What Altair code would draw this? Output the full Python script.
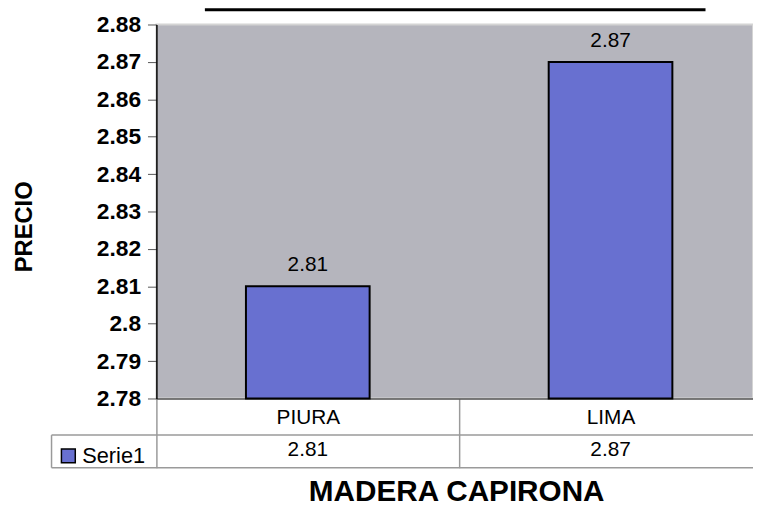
import altair as alt
import pandas as pd

# ---- data ----
categories = ["PIURA", "LIMA"]
prices = [2.81, 2.87]
series_name = "Serie1"
y_ticks = [2.78, 2.79, 2.80, 2.81, 2.82, 2.83, 2.84, 2.85, 2.86, 2.87, 2.88]
chart_title = "COMPRA DE INSUMOS INSUMOS"
x_title = "MADERA CAPIRONA"
y_title = "PRECIO"

df = pd.DataFrame({
    "region": categories,
    "precio": prices,
    "serie": [series_name] * len(categories),
})
one = pd.DataFrame({"k": [0]})

W, H = 603, 378
XR = 612  # the category table runs a little past the window edge
FONT = "Liberation Sans"
BAR = "#6870d0"
PLOT_BG = "#b5b5bd"
LINE = "#9a9a9a"

x_enc = alt.X(
    "region:N",
    sort=categories,
    scale=alt.Scale(paddingInner=0, paddingOuter=0, range=[0, XR]),
    axis=alt.Axis(
        title=x_title,
        labelAngle=0,
        labelFont=FONT,
        labelFontSize=21,
        labelColor="black",
        labelBaseline="alphabetic",
        labelPadding=-45,
        labelOverlap=False,
        tickBand="extent",
        tickSize=70,
        tickColor=LINE,
        tickWidth=1.5,
        domainColor="#555555",
        domainWidth=1.5,
        titleFont=FONT,
        titleFontSize=30,
        titleFontWeight="bold",
        titleColor="black",
        titleBaseline="alphabetic",
        titleY=103,
        titleX=303,
    ),
)
y_enc = alt.Y(
    "precio:Q",
    scale=alt.Scale(domain=[y_ticks[0], y_ticks[-1]], zero=False, nice=False),
    axis=alt.Axis(
        title=y_title,
        values=y_ticks,
        tickCount=len(y_ticks) + 2,
        format=".2~f",
        grid=False,
        labelOverlap=False,
        labelFont=FONT,
        labelFontSize=23,
        labelFontWeight="bold",
        labelColor="black",
        labelPadding=7,
        tickSize=9,
        tickColor="#555555",
        tickWidth=1,
        domainColor="black",
        domainWidth=1.5,
        titleFont=FONT,
        titleFontSize=24,
        titleFontWeight="bold",
        titleColor="black",
        titleAngle=270,
        titleAlign="center",
        titleBaseline="middle",
        titleX=-133,
        titleY=204,
    ),
)

base = alt.Chart(df)

bars = base.mark_bar(width=125, stroke="black", strokeWidth=2).encode(
    x=x_enc,
    y=y_enc,
    y2=alt.datum(y_ticks[0]),
    color=alt.Color(
        "serie:N",
        scale=alt.Scale(range=[BAR]),
        legend=alt.Legend(
            title=None,
            orient="none",
            legendX=-100,
            legendY=425,
            symbolType="square",
            symbolSize=196,
            symbolStrokeColor="black",
            symbolStrokeWidth=1.5,
            symbolOpacity=1,
            labelFont=FONT,
            labelFontSize=22,
            labelColor="black",
            labelOffset=3,
            padding=0,
        ),
    ),
)

labels = base.mark_text(
    font=FONT, fontSize=21, baseline="alphabetic", dy=-15, color="black"
).encode(
    x=alt.X("region:N", sort=categories),
    y="precio:Q",
    text=alt.Text("precio:Q", format=".2f"),
)

table_vals = base.mark_text(
    font=FONT, fontSize=21, baseline="alphabetic", color="black"
).encode(
    x=alt.X("region:N", sort=categories),
    y=alt.value(H + 58),
    text=alt.Text("precio:Q", format=".2f"),
)

lines = alt.Chart(one)
hline1 = lines.mark_rule(color=LINE, strokeWidth=1.5).encode(
    x=alt.value(-106), x2=alt.value(W), y=alt.value(H + 37)
)
hline2 = lines.mark_rule(color=LINE, strokeWidth=1.5).encode(
    x=alt.value(-106), x2=alt.value(W), y=alt.value(H + 70)
)
vline = lines.mark_rule(color=LINE, strokeWidth=1.5).encode(
    x=alt.value(-106), y=alt.value(H + 37), y2=alt.value(H + 70)
)

title_txt = lines.mark_text(
    text=chart_title, font=FONT, fontSize=31, fontWeight="bold",
    baseline="alphabetic", color="black"
).encode(x=alt.value(302), y=alt.value(-18))
underline = lines.mark_rule(color="black", strokeWidth=3).encode(
    x=alt.value(49), x2=alt.value(555), y=alt.value(-15)
)

chart = (
    alt.layer(bars, labels, table_vals, hline1, hline2, vline, title_txt, underline)
    .properties(
        width=W,
        height=H,
        padding={"left": 150, "top": 14, "right": 0, "bottom": 106},
        autosize=alt.AutoSizeParams(type="none"),
        background="white",
    )
    .configure_view(fill=PLOT_BG, stroke="#d4d4d4", strokeWidth=2)
)

chart.save("out.html", embed_options={"renderer": "svg", "actions": False})
